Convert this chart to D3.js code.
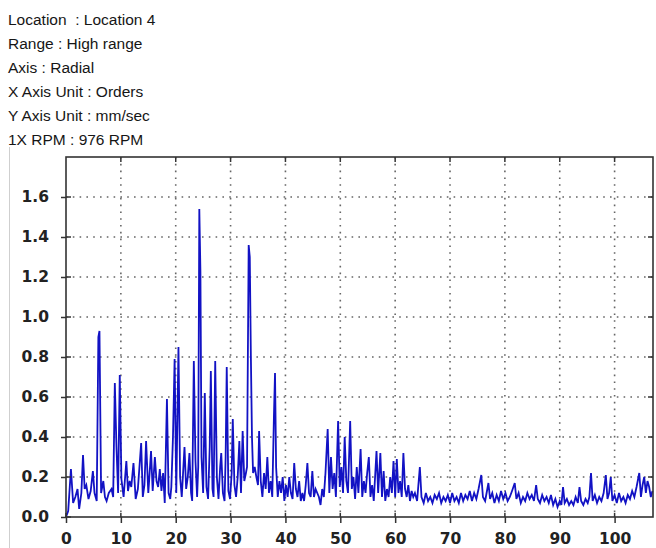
<!DOCTYPE html>
<html>
<head>
<meta charset="utf-8">
<script src="https://cdn.jsdelivr.net/npm/d3@7"></script>
<style>
  html, body { margin: 0; padding: 0; background: #fff; }
  svg { display: block; }
</style>
</head>
<body>
<svg id="chart" width="656" height="548"></svg>
<script>
// ---- data ----
const headerLines = [
  "Location  : Location 4",
  "Range : High range",
  "Axis : Radial",
  "X Axis Unit : Orders",
  "Y Axis Unit : mm/sec",
  "1X RPM : 976 RPM"
];
const xTicks = [0, 10, 20, 30, 40, 50, 60, 70, 80, 90, 100];
const yTicks = [0.0, 0.2, 0.4, 0.6, 0.8, 1.0, 1.2, 1.4, 1.6];
const xDomain = [0, 107];
const yDomain = [0, 1.8];

const orders = [
  0, 0.4, 0.9, 1.3, 1.7, 2.1, 2.4, 2.8, 3.1, 3.4, 3.7, 4.1, 4.5, 4.9, 5.2, 5.6, 5.9, 6.1, 6.4, 6.8,
  7.1, 7.4, 7.8, 8.3, 8.6, 8.9, 9.2, 9.5, 9.8, 10.1, 10.5, 11.0, 11.3, 11.6, 11.9, 12.3, 12.7, 13.1, 13.7, 14.0,
  14.3, 14.6, 15.0, 15.2, 15.5, 15.8, 16.2, 16.5, 16.8, 17.1, 17.4, 17.7, 18.0, 18.4, 18.7, 19.0, 19.2, 19.5, 19.8, 20.1,
  20.5, 20.8, 21.1, 21.6, 21.9, 22.2, 22.5, 22.8, 23.0, 23.3, 23.6, 23.9, 24.1, 24.3, 24.5, 24.7, 25.0, 25.3, 25.6, 25.9,
  26.2, 26.4, 26.7, 26.9, 27.2, 27.5, 27.8, 28.1, 28.3, 28.6, 28.9, 29.1, 29.3, 29.6, 29.9, 30.2, 30.4, 30.7, 31.0, 31.3,
  31.6, 31.9, 32.2, 32.5, 32.8, 33.0, 33.3, 33.5, 33.7, 33.9, 34.1, 34.4, 34.7, 35.0, 35.2, 35.5, 35.8, 36.1, 36.4, 36.7,
  37.0, 37.3, 37.6, 37.9, 38.1, 38.3, 38.6, 38.9, 39.2, 39.5, 39.8, 40.1, 40.4, 40.7, 41.0, 41.3, 41.6, 41.9, 42.2, 42.5,
  42.8, 43.1, 43.4, 43.7, 44.0, 44.3, 44.6, 44.9, 45.2, 45.5, 45.8, 46.1, 46.4, 46.7, 47.0, 47.3, 47.7, 48.0, 48.3, 48.6,
  48.9, 49.2, 49.6, 49.9, 50.2, 50.5, 50.8, 51.1, 51.4, 51.8, 52.1, 52.4, 52.7, 53.0, 53.3, 53.7, 54.0, 54.3, 54.6, 54.9,
  55.2, 55.5, 55.8, 56.1, 56.6, 56.9, 57.3, 57.6, 57.9, 58.2, 58.5, 58.8, 59.1, 59.4, 59.7, 60.0, 60.3, 60.6, 60.9, 61.2,
  61.5, 61.8, 62.1, 62.4, 62.7, 63.0, 63.3, 63.6, 64.0, 64.5, 64.8, 65.2, 65.6, 66.0, 66.4, 66.8, 67.2, 67.6, 68.0, 68.4,
  68.8, 69.2, 69.6, 70.0, 70.4, 70.8, 71.2, 71.6, 72.0, 72.4, 72.8, 73.2, 73.6, 74.0, 74.4, 74.8, 75.2, 75.7, 76.0, 76.4,
  77.0, 77.3, 77.7, 78.1, 78.5, 78.9, 79.3, 79.7, 80.1, 80.5, 80.9, 81.3, 81.8, 82.1, 82.5, 82.9, 83.3, 83.7, 84.1, 84.5,
  84.9, 85.3, 85.7, 86.0, 86.4, 86.8, 87.2, 87.6, 88.0, 88.4, 88.8, 89.2, 89.6, 90.0, 90.3, 90.6, 90.9, 91.3, 91.7, 92.1,
  92.5, 92.9, 93.3, 93.6, 93.9, 94.3, 94.7, 95.1, 95.4, 95.7, 96.0, 96.4, 96.8, 97.2, 97.6, 98.0, 98.4, 98.7, 99.0, 99.3,
  99.6, 100.0, 100.4, 100.8, 101.2, 101.6, 102.0, 102.4, 102.8, 103.2, 103.6, 104.0, 104.5, 104.8, 105.1, 105.4, 105.7, 106.0, 106.3, 106.6,
  106.9
];
const amplitude = [
  0.00, 0.03, 0.24, 0.07, 0.10, 0.14, 0.04, 0.12, 0.31, 0.14, 0.16, 0.09, 0.13, 0.23, 0.12, 0.08, 0.90, 0.93, 0.12, 0.18,
  0.10, 0.08, 0.12, 0.14, 0.10, 0.67, 0.35, 0.12, 0.71, 0.19, 0.10, 0.28, 0.13, 0.18, 0.15, 0.27, 0.09, 0.14, 0.37, 0.10,
  0.16, 0.38, 0.12, 0.20, 0.33, 0.13, 0.30, 0.18, 0.15, 0.24, 0.13, 0.22, 0.07, 0.59, 0.12, 0.09, 0.15, 0.40, 0.79, 0.12,
  0.85, 0.20, 0.10, 0.35, 0.14, 0.20, 0.32, 0.12, 0.08, 0.78, 0.28, 0.10, 0.25, 1.54, 1.23, 0.30, 0.12, 0.62, 0.15, 0.09,
  0.35, 0.73, 0.14, 0.10, 0.78, 0.20, 0.09, 0.25, 0.32, 0.12, 0.08, 0.30, 0.75, 0.13, 0.09, 0.22, 0.49, 0.16, 0.10, 0.20,
  0.38, 0.12, 0.43, 0.18, 0.22, 0.25, 1.36, 1.30, 0.80, 0.40, 0.22, 0.25, 0.20, 0.16, 0.43, 0.18, 0.10, 0.22, 0.14, 0.30,
  0.12, 0.18, 0.10, 0.50, 0.72, 0.25, 0.10, 0.18, 0.12, 0.20, 0.08, 0.16, 0.10, 0.20, 0.12, 0.09, 0.27, 0.14, 0.10, 0.18,
  0.08, 0.12, 0.08, 0.16, 0.27, 0.12, 0.10, 0.23, 0.10, 0.14, 0.12, 0.10, 0.06, 0.14, 0.10, 0.22, 0.44, 0.12, 0.30, 0.14,
  0.22, 0.10, 0.48, 0.15, 0.25, 0.12, 0.40, 0.18, 0.12, 0.48, 0.14, 0.20, 0.09, 0.25, 0.12, 0.34, 0.10, 0.18, 0.12, 0.22,
  0.30, 0.10, 0.16, 0.08, 0.33, 0.12, 0.32, 0.10, 0.23, 0.08, 0.14, 0.10, 0.20, 0.12, 0.28, 0.10, 0.29, 0.12, 0.18, 0.10,
  0.32, 0.14, 0.10, 0.16, 0.08, 0.13, 0.10, 0.12, 0.08, 0.25, 0.10, 0.07, 0.12, 0.08, 0.10, 0.07, 0.11, 0.09, 0.12, 0.07,
  0.10, 0.08, 0.11, 0.07, 0.12, 0.08, 0.10, 0.07, 0.12, 0.08, 0.11, 0.09, 0.13, 0.08, 0.12, 0.09, 0.14, 0.21, 0.10, 0.08,
  0.17, 0.09, 0.12, 0.07, 0.11, 0.08, 0.13, 0.09, 0.12, 0.08, 0.10, 0.13, 0.17, 0.09, 0.12, 0.07, 0.10, 0.08, 0.12, 0.09,
  0.11, 0.08, 0.16, 0.09, 0.07, 0.11, 0.08, 0.10, 0.07, 0.11, 0.06, 0.09, 0.05, 0.08, 0.06, 0.15, 0.07, 0.09, 0.06, 0.08,
  0.06, 0.10, 0.07, 0.15, 0.08, 0.06, 0.09, 0.07, 0.10, 0.22, 0.08, 0.11, 0.07, 0.10, 0.08, 0.12, 0.21, 0.09, 0.12, 0.20,
  0.08, 0.11, 0.07, 0.12, 0.08, 0.10, 0.07, 0.11, 0.09, 0.13, 0.10, 0.15, 0.22, 0.10, 0.16, 0.20, 0.12, 0.18, 0.15, 0.10,
  0.13
];

// ---- layout ----
const svg = d3.select("#chart");
const plot = { left: 66, right: 653, top: 157, bottom: 517 };

const x = d3.scaleLinear().domain(xDomain).range([plot.left, plot.right]);
const y = d3.scaleLinear().domain(yDomain).range([plot.bottom, plot.top]);

// faint panel border seen in the screenshot
svg.append("line")
  .attr("x1", 9.5).attr("x2", 9.5).attr("y1", 147).attr("y2", 548)
  .attr("stroke", "#cfcfcf").attr("stroke-width", 1);

// header text
svg.append("g").selectAll("text").data(headerLines).join("text")
  .attr("x", 8)
  .attr("y", (d, i) => 25 + i * 24)
  .attr("font-family", "Liberation Sans, Arial, sans-serif")
  .attr("font-size", 15.5)
  .attr("fill", "#161616")
  .attr("xml:space", "preserve")
  .style("white-space", "pre")
  .text(d => d);

// grid (dotted)
const grid = svg.append("g");
grid.selectAll("line.vg").data(xTicks.filter(d => d > 0)).join("line")
  .attr("class", "vg")
  .attr("x1", d => x(d)).attr("x2", d => x(d))
  .attr("y1", plot.top).attr("y2", plot.bottom)
  .attr("stroke", "#666").attr("stroke-width", 1.6)
  .attr("stroke-dasharray", "1.6,5.2");
grid.selectAll("line.hg").data(yTicks.filter(d => d > 0)).join("line")
  .attr("class", "hg")
  .attr("x1", plot.left).attr("x2", plot.right)
  .attr("y1", d => y(d)).attr("y2", d => y(d))
  .attr("stroke", "#666").attr("stroke-width", 1.6)
  .attr("stroke-dasharray", "1.6,5.2");

// spectrum line
const pts = orders.map((o, i) => [o, amplitude[i]]);
const line = d3.line().x(d => x(d[0])).y(d => y(d[1]));
svg.append("path")
  .datum(pts)
  .attr("d", line)
  .attr("fill", "none")
  .attr("stroke", "#1212c4")
  .attr("stroke-width", 1.8)
  .attr("stroke-linejoin", "miter");

// frame
svg.append("rect")
  .attr("x", plot.left).attr("y", plot.top)
  .attr("width", plot.right - plot.left).attr("height", plot.bottom - plot.top)
  .attr("fill", "none").attr("stroke", "#333").attr("stroke-width", 1.6);

// axes
const fontAxis = "DejaVu Sans, Verdana, sans-serif";
const xAxis = d3.axisBottom(x).tickValues(xTicks).tickFormat(d3.format("d")).tickSize(6).tickPadding(10);
const gx = svg.append("g").attr("transform", `translate(0,${plot.bottom})`).call(xAxis);
gx.select(".domain").remove();
gx.selectAll(".tick line").attr("stroke", "#333").attr("stroke-width", 1.5);
gx.selectAll(".tick text")
  .attr("font-family", fontAxis).attr("font-weight", "bold").attr("font-size", 15.5).attr("fill", "#222");

const yAxis = d3.axisLeft(y).tickValues(yTicks).tickFormat(d3.format(".1f")).tickSize(5).tickPadding(12);
const gy = svg.append("g").attr("transform", `translate(${plot.left},0)`).call(yAxis);
gy.select(".domain").remove();
gy.selectAll(".tick line").attr("stroke", "#333").attr("stroke-width", 1.5);
gy.selectAll(".tick text")
  .attr("font-family", fontAxis).attr("font-weight", "bold").attr("font-size", 15.5).attr("fill", "#222");

// inner tick marks (left crossing, right, top)
const inner = svg.append("g").attr("stroke", "#333").attr("stroke-width", 1.5);
inner.selectAll("line.yl").data(yTicks).join("line")
  .attr("x1", plot.left).attr("x2", plot.left + 5)
  .attr("y1", d => y(d)).attr("y2", d => y(d));
inner.selectAll("line.yr").data(yTicks.filter(d => d > 0)).join("line")
  .attr("x1", plot.right - 5).attr("x2", plot.right)
  .attr("y1", d => y(d)).attr("y2", d => y(d));
inner.selectAll("line.xt").data(xTicks.filter(d => d > 0)).join("line")
  .attr("x1", d => x(d)).attr("x2", d => x(d))
  .attr("y1", plot.top).attr("y2", plot.top + 5);
inner.selectAll("line.xb").data(xTicks).join("line")
  .attr("x1", d => x(d)).attr("x2", d => x(d))
  .attr("y1", plot.bottom - 4).attr("y2", plot.bottom);
</script>
</body>
</html>
